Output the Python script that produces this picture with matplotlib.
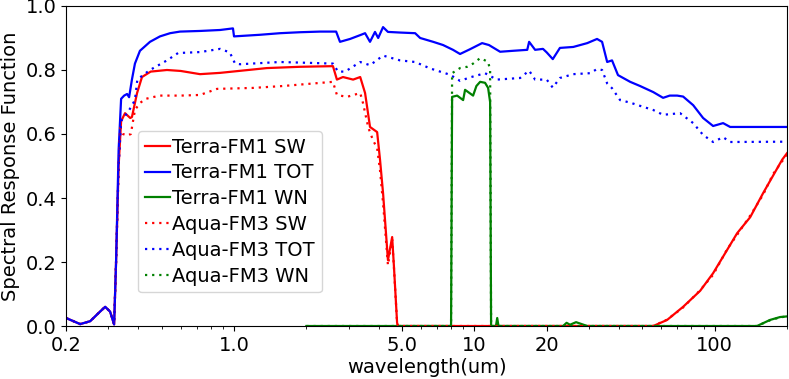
import matplotlib
matplotlib.use("Agg")
import matplotlib.pyplot as plt
from matplotlib.ticker import FixedLocator, NullFormatter, LogLocator

# wavelength (um) / response
terra_tot_wl = [0.2, 0.229, 0.252, 0.277, 0.291, 0.305, 0.317, 0.323, 0.331, 0.339, 0.349, 0.359, 0.366,
                0.376, 0.387, 0.406, 0.447, 0.492, 0.542, 0.596, 0.722, 0.875, 0.99, 1.0, 1.28, 1.555,
                1.88, 2.28, 2.66, 2.76, 3.04, 3.35, 3.51, 3.68, 3.86, 3.98, 4.17, 4.37, 4.91, 5.67,
                5.95, 6.74, 7.41, 8.15, 8.72, 9.6, 10.77, 11.5, 12.8, 14.5, 16.6, 16.9, 17.9, 19.3,
                20.0, 21.2, 22.7, 25.8, 29.5, 32.4, 34.0, 35.7, 37.4, 39.6, 44.5, 48.9, 55.5, 61.0,
                65.0, 69.8, 73.9, 81.4, 89.5, 98.5, 108.4, 116.0, 200.0]
terra_tot = [0.025, 0.006, 0.015, 0.045, 0.06, 0.045, 0.005, 0.2, 0.55, 0.71, 0.72, 0.725, 0.715,
             0.77, 0.82, 0.86, 0.888, 0.905, 0.915, 0.92, 0.922, 0.925, 0.93, 0.905, 0.91, 0.915,
             0.918, 0.92, 0.92, 0.888, 0.897, 0.909, 0.915, 0.888, 0.919, 0.9, 0.934, 0.919, 0.917, 0.915,
             0.9, 0.888, 0.878, 0.863, 0.85, 0.865, 0.884, 0.878, 0.857, 0.86, 0.863, 0.888, 0.863, 0.866,
             0.855, 0.834, 0.869, 0.872, 0.884, 0.897, 0.888, 0.825, 0.83, 0.784, 0.763, 0.75, 0.731, 0.713,
             0.72, 0.72, 0.717, 0.69, 0.65, 0.625, 0.634, 0.622, 0.622]

aqua_tot_wl = [0.2, 0.229, 0.252, 0.277, 0.291, 0.305, 0.317, 0.323, 0.331, 0.339, 0.349, 0.36, 0.387,
               0.396, 0.418, 0.447, 0.526, 0.585, 0.722, 0.875, 0.96, 1.01, 1.06, 1.555, 2.58, 2.71,
               2.9, 3.35, 3.68, 4.17, 4.91, 5.67, 6.54, 7.93, 8.72, 9.6, 11.08, 12.4, 15.5, 16.9, 17.9,
               20.0, 21.2, 22.7, 25.8, 30.3, 32.4, 34.0, 35.7, 37.4, 40.4, 44.5, 48.9, 55.5, 61.0,
               71.8, 81.4, 89.5, 98.5, 108.4, 116.0, 200.0]
aqua_tot = [0.025, 0.006, 0.015, 0.045, 0.06, 0.045, 0.005, 0.2, 0.5, 0.64, 0.655, 0.665, 0.706,
            0.77, 0.784, 0.8, 0.83, 0.853, 0.856, 0.866, 0.855, 0.82, 0.818, 0.825, 0.82, 0.795,
            0.795, 0.825, 0.815, 0.845, 0.83, 0.825, 0.805, 0.785, 0.766, 0.777, 0.79, 0.77, 0.775, 0.798, 0.77,
            0.77, 0.745, 0.775, 0.787, 0.79, 0.803, 0.8, 0.758, 0.743, 0.706, 0.698, 0.688, 0.675, 0.66,
            0.665, 0.634, 0.597, 0.575, 0.59, 0.575, 0.576]

terra_sw_wl = [0.2, 0.229, 0.252, 0.277, 0.291, 0.305, 0.317, 0.323, 0.331, 0.339, 0.352, 0.37, 0.376,
               0.395, 0.414, 0.45, 0.526, 0.6, 0.722, 0.875, 1.37, 1.88, 2.58, 2.68, 2.84, 3.13, 3.35,
               3.51, 3.68, 3.94, 4.05, 4.17, 4.33, 4.37, 4.55, 4.63, 4.77, 4.81, 55.5, 63.4, 73.9,
               87.0, 98.5, 112.7, 124.0, 140.5, 159.0, 175.0, 191.0, 200.0]
terra_sw = [0.025, 0.006, 0.015, 0.045, 0.06, 0.045, 0.005, 0.2, 0.5, 0.64, 0.665, 0.65, 0.653,
            0.728, 0.778, 0.795, 0.8, 0.797, 0.787, 0.791, 0.806, 0.81, 0.812, 0.77, 0.778, 0.77, 0.778,
            0.728, 0.622, 0.606, 0.52, 0.415, 0.247, 0.206, 0.278, 0.184, 0.01, 0.0, 0.0, 0.019, 0.06,
            0.11, 0.165, 0.238, 0.29, 0.34, 0.415, 0.47, 0.52, 0.54]

aqua_sw_wl = [0.2, 0.229, 0.252, 0.277, 0.291, 0.305, 0.317, 0.323, 0.331, 0.336, 0.345, 0.36, 0.372,
              0.387, 0.406, 0.43, 0.49, 0.6, 0.722, 0.85, 1.2, 1.6, 2.58, 2.68, 2.95, 3.35, 3.44, 3.62,
              3.79, 3.94, 4.05, 4.17, 4.37, 4.55, 4.63, 4.77, 4.81, 55.5, 63.4, 73.9, 87.0, 98.5,
              112.7, 124.0, 140.5, 159.0, 175.0, 191.0, 200.0]
aqua_sw = [0.025, 0.006, 0.015, 0.045, 0.06, 0.045, 0.005, 0.2, 0.5, 0.62, 0.6, 0.595, 0.6,
           0.675, 0.697, 0.71, 0.72, 0.72, 0.722, 0.741, 0.744, 0.75, 0.763, 0.722, 0.716, 0.728, 0.697, 0.62,
           0.58, 0.556, 0.487, 0.384, 0.19, 0.27, 0.18, 0.01, 0.0, 0.0, 0.02, 0.058, 0.112, 0.16,
           0.24, 0.285, 0.345, 0.41, 0.475, 0.515, 0.535]

terra_wn_wl = [2.0, 8.0, 8.08, 8.48, 8.98, 9.15, 9.88, 10.2, 10.57, 11.08, 11.41, 11.63, 11.74, 12.3,
               12.45, 12.6, 23.4, 24.2, 25.0, 26.5, 29.5, 150.0, 170.0, 187.0, 200.0]
terra_wn = [0.0, 0.0, 0.716, 0.72, 0.706, 0.738, 0.72, 0.75, 0.763, 0.76, 0.744, 0.7, 0.0, 0.0,
            0.025, 0.0, 0.0, 0.01, 0.004, 0.012, 0.0, 0.0, 0.019, 0.028, 0.03]

aqua_wn_wl = [2.0, 8.0, 8.08, 8.72, 9.33, 9.88, 10.57, 11.08, 11.41, 11.63, 11.74, 150.0, 170.0, 187.0, 200.0]
aqua_wn = [0.0, 0.0, 0.79, 0.806, 0.81, 0.82, 0.837, 0.83, 0.825, 0.80, 0.0, 0.0, 0.018, 0.027, 0.03]

xticks = [0.2, 1.0, 5.0, 10, 20, 100]
xtick_labels = ["0.2", "1.0", "5.0", "10", "20", "100"]

dots = (0, (1, 2.2))

fig = plt.figure(figsize=(7.89, 3.79), dpi=100)
ax = fig.add_axes([0.0837, 0.1398, 0.9138, 0.8444])

ax.plot(terra_sw_wl, terra_sw, color="r", lw=1.6, label="Terra-FM1 SW")
ax.plot(terra_tot_wl, terra_tot, color="b", lw=1.6, label="Terra-FM1 TOT")
ax.plot(terra_wn_wl, terra_wn, color="g", lw=1.6, label="Terra-FM1 WN")
ax.plot(aqua_sw_wl, aqua_sw, color="r", lw=1.6, ls=dots, label="Aqua-FM3 SW")
ax.plot(aqua_tot_wl, aqua_tot, color="b", lw=1.6, ls=dots, label="Aqua-FM3 TOT")
ax.plot(aqua_wn_wl, aqua_wn, color="g", lw=1.6, ls=dots, label="Aqua-FM3 WN")

ax.set_xscale("log")
ax.set_xlim(0.2, 200)
ax.set_ylim(0, 1.0)
ax.xaxis.set_major_locator(FixedLocator(xticks))
ax.set_xticklabels(xtick_labels)
ax.xaxis.set_minor_locator(LogLocator(base=10, subs=range(2, 10)))
ax.xaxis.set_minor_formatter(NullFormatter())
ax.tick_params(axis="both", labelsize=14)

ax.set_xlabel("wavelength(um)", fontsize=14, labelpad=2)
ax.set_ylabel("Spectral Response Function", fontsize=14)

ax.legend(fontsize=14, loc="upper left", bbox_to_anchor=(0.1, 0.61), borderaxespad=0,
          handlelength=1.3, handletextpad=0.1, labelspacing=0.35, borderpad=0.35)

plt.savefig("out.png", dpi=100)
